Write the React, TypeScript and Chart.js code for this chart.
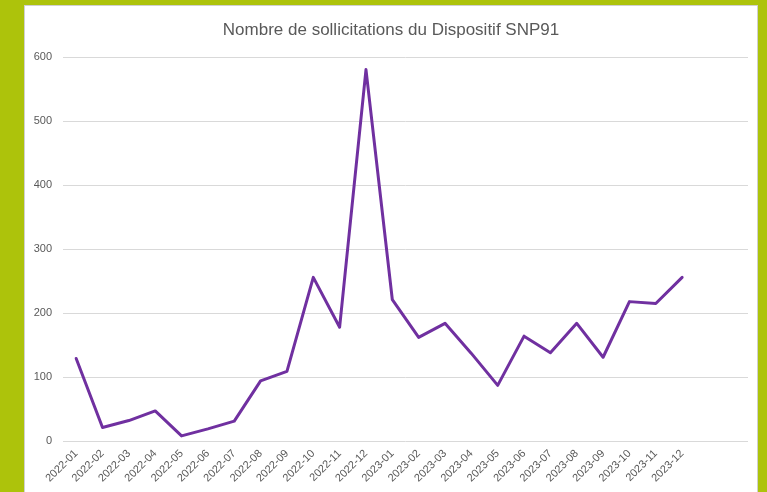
import React, { useEffect, useRef } from "react";
import { Chart, registerables } from "chart.js";

Chart.register(...registerables);

const titleText = "Nombre de sollicitations du Dispositif SNP91";

const months: string[] = [
  "2022-01", "2022-02", "2022-03", "2022-04", "2022-05", "2022-06",
  "2022-07", "2022-08", "2022-09", "2022-10", "2022-11", "2022-12",
  "2023-01", "2023-02", "2023-03", "2023-04", "2023-05", "2023-06",
  "2023-07", "2023-08", "2023-09", "2023-10", "2023-11", "2023-12",
  "", "",
];

const sollicitations: (number | null)[] = [
  129, 21, 32, 47, 8, 19, 31, 94, 109, 256, 178, 581,
  221, 162, 184, 137, 87, 164, 138, 184, 131, 218, 215, 256,
  null, null,
];

const yTicks: number[] = [0, 100, 200, 300, 400, 500, 600];

export default function App() {
  const ref = useRef<HTMLCanvasElement | null>(null);

  useEffect(() => {
    if (!ref.current) return;
    const chart = new Chart(ref.current, {
      type: "line",
      data: {
        labels: months,
        datasets: [
          {
            label: "Sollicitations",
            data: sollicitations,
            borderColor: "#7030A0",
            backgroundColor: "#7030A0",
            borderWidth: 3,
            borderJoinStyle: "round",
            borderCapStyle: "round",
            pointRadius: 0,
            tension: 0,
            spanGaps: false,
            yAxisID: "y",
          },
        ],
      },
      options: {
        responsive: false,
        animation: false,
        layout: { padding: { left: 0, right: 0, top: 0, bottom: 0 } },
        plugins: {
          legend: { display: false },
          tooltip: { enabled: false },
          title: {
            display: true,
            text: titleText,
            color: "#595959",
            font: { family: "Liberation Sans, Arial, sans-serif", size: 17, weight: "normal" },
            padding: { top: 14, bottom: 17 },
          },
        },
        scales: {
          x: {
            offset: true,
            grid: { display: false, drawTicks: false },
            border: { display: false },
            ticks: {
              color: "#595959",
              font: { family: "Liberation Sans, Arial, sans-serif", size: 11 },
              minRotation: 45,
              maxRotation: 45,
              autoSkip: false,
              padding: 6,
            },
            afterFit: (s: any) => {
              s.height = 51;
            },
          },
          y: {
            min: 0,
            max: 600,
            afterBuildTicks: (s: any) => {
              s.ticks = yTicks.map((v) => ({ value: v }));
            },
            grid: { color: "#D9D9D9", lineWidth: 1, drawTicks: false },
            border: { display: false },
            ticks: {
              color: "#595959",
              font: { family: "Liberation Sans, Arial, sans-serif", size: 11 },
              padding: 11,
            },
            afterFit: (s: any) => {
              s.width = 38;
            },
          },
          yRight: {
            position: "right",
            min: 0,
            max: 600,
            grid: { display: false, drawTicks: false },
            border: { display: false },
            ticks: { display: false },
            afterFit: (s: any) => {
              s.width = 9;
            },
          },
        },
      },
    });
    return () => chart.destroy();
  }, []);

  return (
    <div
      style={{
        position: "fixed",
        left: 0,
        top: 0,
        width: 767,
        height: 492,
        background: "#ADC30B",
        overflow: "hidden",
      }}
    >
      <div
        style={{
          position: "absolute",
          left: 24,
          top: 5,
          width: 732,
          height: 500,
          background: "#ffffff",
          border: "1px solid #D0D0D0",
        }}
      >
        <canvas
          ref={ref}
          width={732}
          height={486}
          style={{ position: "absolute", left: 0, top: 0, width: 732, height: 486 }}
        />
      </div>
    </div>
  );
}
